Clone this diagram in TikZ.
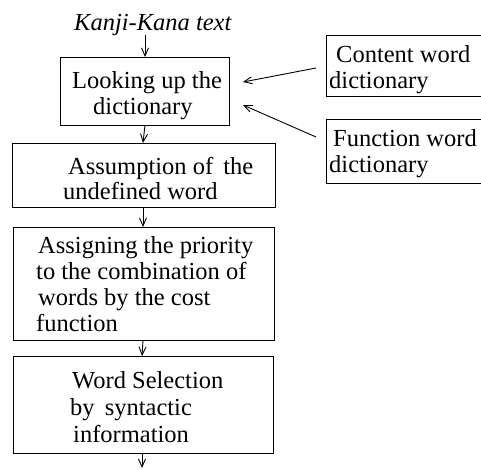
\documentclass[tikz,border=0pt]{standalone}
\usepackage{fontspec}
\setmainfont{Liberation Serif}
\usetikzlibrary{arrows.meta}
\begin{document}
\begin{tikzpicture}[x=1pt,y=-1pt,
  boxst/.style={draw, line width=0.9pt},
  txt/.style={anchor=base west, inner sep=0pt, font=\fontsize{24.5}{26}\selectfont},
  arr/.style={line width=0.9pt, -{Straight Barb[length=8pt,width=7pt,line width=0.9pt]}}]
\useasboundingbox (0,0) rectangle (481,469);
% main boxes
\draw[boxst] (60,57) rectangle (229,125);
\coordinate (b1n) at (145,57); \coordinate (b1s) at (145,125);
\draw[boxst] (12,143) rectangle (275,207);
\coordinate (b2n) at (143,143); \coordinate (b2s) at (143,207);
\draw[boxst] (13,227) rectangle (274,340);
\coordinate (b3n) at (143,227); \coordinate (b3s) at (143,340);
\draw[boxst] (13,356) rectangle (273,453);
\coordinate (b4n) at (142,356); \coordinate (b4s) at (142,453);
% side boxes (cut by the right edge)
\draw[boxst] (485,35) -- (326,35) -- (326,96) -- (485,96);
\draw[boxst] (485,119) -- (326,119) -- (326,183) -- (485,183);
\coordinate (cw) at (316,68); \coordinate (fw) at (316,137);
\coordinate (in1) at (243,82); \coordinate (in2) at (243,105);
% texts
\node[txt, font=\fontsize{24.5}{26}\selectfont\itshape] (kk) at (74,30) {Kanji-Kana text};
\node[txt] (t11) at (72,88) {Looking up the};
\node[txt] (t12) at (93,114) {dictionary};
\node[txt] (t21) at (68,174) {Assumption of\hspace{4pt} the};
\node[txt] (t22) at (63,199) {undefined word};
\node[txt] (t31) at (38,253) {Assigning the priority};
\node[txt] (t32) at (36,279) {to the combination of};
\node[txt] (t33) at (38,305) {words by the cost};
\node[txt] (t34) at (36,331) {function};
\node[txt] (t41) at (72,388) {Word Selection};
\node[txt] (t42) at (70,415) {by\hspace{4pt} syntactic};
\node[txt] (t43) at (73,442) {information};
\node[txt] (c1) at (336,62) {Content word};
\node[txt] (c2) at (329,88) {dictionary};
\node[txt] (f1) at (333,146) {Function word};
\node[txt] (f2) at (329,172) {dictionary};
% arrows
\coordinate (kks) at (145,35);
\coordinate (end) at (142,468);
\draw[arr] (kks) -- (b1n);
\draw[arr] (b1s) -- (b2n);
\draw[arr] (b2s) -- (b3n);
\draw[arr] (b3s) -- (b4n);
\draw[arr] (b4s) -- (end);
\draw[arr] (cw) -- (in1);
\draw[arr] (fw) -- (in2);
\end{tikzpicture}
\end{document}
